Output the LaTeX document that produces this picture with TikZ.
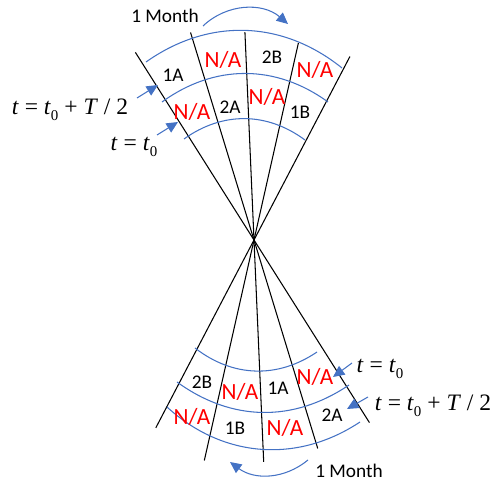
\documentclass[tikz,border=0pt]{standalone}
\usepackage{fontspec}
\setmainfont{Carlito}
\newfontfamily\eqfont{Liberation Serif}
\usetikzlibrary{arrows.meta}
\definecolor{arcblue}{HTML}{4472C4}
\newcommand{\tnull}{\textit{t}\raisebox{-0.5ex}{\fontsize{8.5}{9}\selectfont 0}}

\begin{document}
\begin{tikzpicture}[
    x=0.02cm, y=0.02cm,
    cell/.style={font=\fontsize{11}{13}\selectfont, inner sep=0pt},
    na/.style={font=\fontsize{13.2}{15}\selectfont, text=red, inner sep=0pt},
    eq/.style={font=\eqfont\fontsize{13.4}{15}\selectfont, inner sep=0pt, anchor=base},
    ring/.style={draw=arcblue, line width=0.6pt},
    pointer/.style={draw=arcblue, line width=0.6pt,
                    -{Triangle[length=6.5pt, width=6pt]}}
  ]
  \useasboundingbox (0,0) rectangle (494,487);

  % Apex of the two cones
  \coordinate (apex) at (254,247);

  % Lines through the apex
  \foreach \ang/\up/\dn [count=\i] in {122.3/222/216, 107/217/218, 92.5/208/222,
                                        77.3/202/226, 62.4/207/212}
    \draw[line width=0.6pt] (apex) ++(\ang:\up) coordinate (u\i)
      -- ++(\ang+180:\up+\dn) coordinate (d\i);

  % Time arcs, upper cone
  \foreach \xa/\ya/\xb/\yb/\b in {146/425/342/419/37, 162/385/328/385/36,
                                   184/348/305/347/36}
    \draw[ring] (\xa,\ya) to[bend left=\b] (\xb,\yb);

  % Time arcs, lower cone
  \foreach \xa/\ya/\xb/\yb/\b in {195/139/317/135/36, 177/105/349/102/35,
                                   167/80/360/65/38}
    \draw[ring] (\xa,\ya) to[bend right=\b] (\xb,\yb);

  % Cells, upper cone
  \node[cell] (u1A) at (173,412) {1A};
  \node[na]   (uNA1) at (223,427) {N/A};
  \node[cell] (u2B) at (272,430) {2B};
  \node[na]   (uNA2) at (315,417) {N/A};
  \node[na]   (uNA3) at (192,375) {N/A};
  \node[cell] (u2A) at (230,380) {2A};
  \node[na]   (uNA4) at (267,390) {N/A};
  \node[cell] (u1B) at (300,375) {1B};

  % Cells, lower cone
  \node[cell] (l2B) at (202,105) {2B};
  \node[na]   (lNA1) at (240,95) {N/A};
  \node[cell] (l1A) at (278,99) {1A};
  \node[na]   (lNA2) at (315,110) {N/A};
  \node[na]   (lNA3) at (192,70) {N/A};
  \node[cell] (l1B) at (235,59) {1B};
  \node[na]   (lNA4) at (285,59) {N/A};
  \node[cell] (l2A) at (332,72) {2A};

  % Time labels
  \node[eq] (uhalf) at (70,372) {\textit{t} = \tnull{} + \textit{T} / 2};
  \node[eq] (uzero) at (134,336) {\textit{t} = \tnull};
  \node[eq] (lzero) at (380,114) {\textit{t} = \tnull};
  \node[eq] (lhalf) at (433,76) {\textit{t} = \tnull{} + \textit{T} / 2};

  \coordinate (uhalfA) at (137,389); \coordinate (uhalfB) at (158,402);
  \coordinate (uzeroA) at (157,352); \coordinate (uzeroB) at (178,365);
  \coordinate (lzeroA) at (352,124); \coordinate (lzeroB) at (333,110);
  \coordinate (lhalfA) at (368,90);  \coordinate (lhalfB) at (347,78);
  \draw[pointer] (uhalfA) -- (uhalfB);
  \draw[pointer] (uzeroA) -- (uzeroB);
  \draw[pointer] (lzeroA) -- (lzeroB);
  \draw[pointer] (lhalfA) -- (lhalfB);

  % Month arrows
  \node[cell] (umonth) at (165,471) {1 Month};
  \node[cell] (lmonth) at (349,16) {1 Month};
  \coordinate (umA) at (203,461); \coordinate (umB) at (288,463);
  \coordinate (lmA) at (308,27);  \coordinate (lmB) at (230,25);
  \draw[pointer] (umA) to[bend left=42] (umB);
  \draw[pointer] (lmA) to[bend left=38] (lmB);

\end{tikzpicture}
\end{document}
